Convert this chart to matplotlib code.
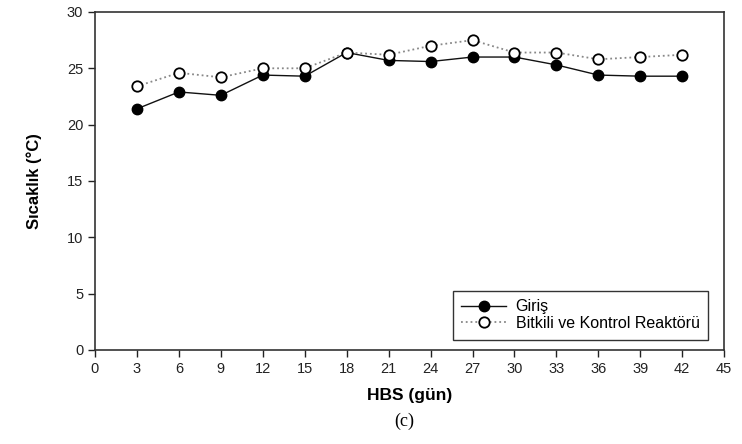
import numpy as np
import matplotlib.pyplot as plt

plt.rcParams['font.family'] = ['Liberation Sans', 'DejaVu Sans']

# --- VERİ ---
gun = [3, 6, 9, 12, 15, 18, 21, 24, 27, 30, 33, 36, 39, 42]
giris = [21.4, 22.9, 22.6, 24.4, 24.3, 26.4, 25.7, 25.6, 26.0, 26.0, 25.3, 24.4, 24.3, 24.3]
bitkili = [23.4, 24.6, 24.2, 25.0, 25.0, 26.4, 26.2, 27.0, 27.5, 26.4, 26.4, 25.8, 26.0, 26.2]

x_ticks = np.arange(0, 46, 3)
y_ticks = np.arange(0, 31, 5)

fig = plt.figure(figsize=(7.42, 4.44), dpi=100)
ax = fig.add_axes([0.128, 0.212, 0.848, 0.761])

ax.plot(gun, giris, color='#111111', linestyle='-', linewidth=1.0,
        marker='o', markersize=7.5, markerfacecolor='black', markeredgecolor='black',
        label='Giriş', zorder=3)
ax.plot(gun, bitkili, color='#888888', linestyle=':', linewidth=1.3,
        marker='o', markersize=7.5, markerfacecolor='white', markeredgecolor='black',
        markeredgewidth=1.3, label='Bitkili ve Kontrol Reaktörü', zorder=4)

ax.set_xlim(0, 45)
ax.set_ylim(0, 30)
ax.set_xticks(x_ticks)
ax.set_yticks(y_ticks)
ax.tick_params(direction='out', length=5, width=1, labelsize=10.5, colors='#222222')
for sp in ax.spines.values():
    sp.set_linewidth(1.2)
    sp.set_color('#333333')

ax.set_xlabel("HBS (gün)", fontsize=12.5, fontweight='bold', labelpad=9)
ax.set_ylabel("Sıcaklık (°C)", fontsize=12, fontweight='bold', labelpad=18)

leg = ax.legend(loc='lower right', bbox_to_anchor=(0.975, 0.03), borderaxespad=0,
                fontsize=11.5, frameon=True, fancybox=False, handlelength=2.8,
                borderpad=0.55, labelspacing=0.1, handletextpad=0.6)
leg.get_frame().set_edgecolor('black')
leg.get_frame().set_linewidth(1.0)

fig.text(0.545, 0.05, "(c)", fontsize=13, family='Liberation Serif',
         ha='center', va='center')

plt.savefig("out.png", dpi=100)
plt.close()
